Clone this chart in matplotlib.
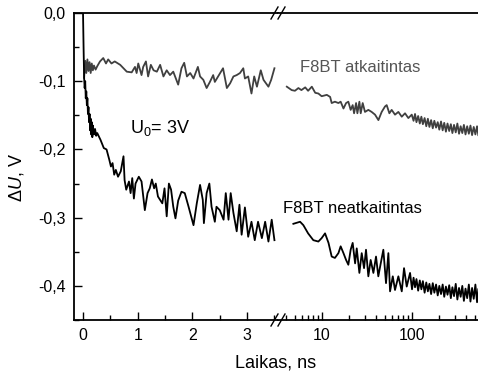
import matplotlib
matplotlib.use('Agg')
import matplotlib.pyplot as plt
import matplotlib.ticker as mticker
from matplotlib.lines import Line2D

plt.rcParams.update({
    'font.family': 'Liberation Sans',
    'mathtext.fontset': 'custom',
    'mathtext.rm': 'Liberation Sans',
    'mathtext.it': 'Liberation Sans:italic',
    'axes.linewidth': 1.3,
})

# ---- data (time in ns, dU in V) ----
# annealed film (F8BT atkaitintas), linear part
t_atk_lin = [0.02, 0.04, 0.06, 0.08, 0.10, 0.12, 0.14, 0.16, 0.18, 0.20,
             0.23, 0.26, 0.31, 0.37, 0.42, 0.46, 0.52, 0.58, 0.68, 0.80,
             0.89, 0.95, 0.98, 1.01, 1.07, 1.10, 1.15, 1.19, 1.24, 1.29,
             1.35, 1.41, 1.47, 1.53, 1.59, 1.65, 1.74, 1.80, 1.85, 1.90,
             1.96, 2.02, 2.10, 2.14, 2.20, 2.26, 2.32, 2.38, 2.41, 2.47,
             2.56, 2.63, 2.69, 2.75, 2.81, 2.87, 2.93, 2.96, 3.02, 3.08,
             3.13, 3.18, 3.25, 3.30, 3.39, 3.44, 3.50]
u_atk_lin = [-0.095, -0.070, -0.088, -0.068, -0.085, -0.072, -0.088, -0.074, -0.084, -0.077,
             -0.083, -0.078, -0.071, -0.066, -0.074, -0.068, -0.074, -0.071, -0.076, -0.086,
             -0.087, -0.079, -0.088, -0.074, -0.091, -0.079, -0.071, -0.093, -0.076, -0.084,
             -0.086, -0.076, -0.093, -0.084, -0.091, -0.086, -0.105, -0.081, -0.073, -0.093,
             -0.088, -0.096, -0.079, -0.093, -0.098, -0.110, -0.101, -0.091, -0.101, -0.093,
             -0.081, -0.110, -0.103, -0.093, -0.091, -0.088, -0.081, -0.096, -0.093, -0.118,
             -0.093, -0.108, -0.084, -0.098, -0.108, -0.098, -0.081]

# annealed film, log part
t_atk_log = [4.06, 4.6, 5.0, 5.46, 5.9, 6.5, 7.0, 7.7, 8.4, 9.1,
             9.9, 11.3, 12.3, 12.8, 13.9, 15.2, 16.1, 17.3, 18.5, 19.6,
             20.8, 21.9, 22.7, 23.9, 24.7, 26.0, 26.9, 28.3, 30.0, 32.7,
             35.6, 38.8, 42.3, 46.0, 50.1, 52.3, 56.0, 59.4, 64.7, 70.5,
             76.9, 83.6, 91.0, 99.3, 104, 108, 112, 117, 122, 127,
             132, 138, 144, 150, 156, 163, 170, 177, 185, 193,
             201, 210, 219, 228, 238, 248, 259, 270, 281, 293,
             306, 319, 333, 347, 362, 377, 393, 410, 428, 446,
             465, 485, 506, 528, 545]
u_atk_log = [-0.108, -0.113, -0.114, -0.110, -0.113, -0.109, -0.114, -0.108, -0.117, -0.118,
             -0.122, -0.120, -0.123, -0.132, -0.130, -0.132, -0.130, -0.140, -0.132, -0.130,
             -0.142, -0.135, -0.147, -0.132, -0.147, -0.130, -0.147, -0.132, -0.145, -0.142,
             -0.145, -0.149, -0.157, -0.145, -0.137, -0.135, -0.147, -0.142, -0.149, -0.145,
             -0.152, -0.147, -0.154, -0.149, -0.158, -0.148, -0.160, -0.151, -0.162, -0.152,
             -0.163, -0.154, -0.166, -0.155, -0.167, -0.157, -0.169, -0.158, -0.168, -0.160,
             -0.171, -0.159, -0.172, -0.161, -0.174, -0.162, -0.173, -0.163, -0.176, -0.164,
             -0.175, -0.162, -0.177, -0.166, -0.176, -0.164, -0.178, -0.166, -0.177, -0.165,
             -0.179, -0.167, -0.178, -0.166, -0.179]

# non-annealed film (F8BT neatkaitintas), linear part
t_neat_lin = [0.0, 0.01, 0.02, 0.03, 0.04, 0.05, 0.06, 0.07, 0.08, 0.09,
              0.10, 0.11, 0.12, 0.13, 0.14, 0.15, 0.16, 0.17, 0.18, 0.20,
              0.22, 0.24, 0.26, 0.32, 0.38, 0.43, 0.48, 0.51, 0.54, 0.57,
              0.60, 0.64, 0.69, 0.74, 0.76, 0.79, 0.84, 0.87, 0.90, 0.93,
              0.96, 1.02, 1.07, 1.13, 1.18, 1.22, 1.26, 1.30, 1.33, 1.37,
              1.41, 1.45, 1.49, 1.53, 1.57, 1.61, 1.65, 1.69, 1.74, 1.80,
              1.86, 1.93, 2.02, 2.08, 2.14, 2.19, 2.21, 2.26, 2.31, 2.35,
              2.41, 2.44, 2.50, 2.57, 2.61, 2.66, 2.70, 2.75, 2.81, 2.86,
              2.90, 2.96, 3.02, 3.08, 3.14, 3.20, 3.27, 3.33, 3.39, 3.45,
              3.50]
u_neat_lin = [0.0, -0.050, -0.095, -0.110, -0.100, -0.125, -0.115, -0.135, -0.125, -0.148,
              -0.138, -0.160, -0.148, -0.172, -0.155, -0.178, -0.160, -0.182, -0.165, -0.178,
              -0.170, -0.180, -0.176, -0.186, -0.198, -0.200, -0.215, -0.225, -0.220, -0.237,
              -0.230, -0.240, -0.232, -0.210, -0.245, -0.259, -0.247, -0.264, -0.242, -0.272,
              -0.250, -0.240, -0.247, -0.289, -0.264, -0.257, -0.244, -0.257, -0.250, -0.269,
              -0.274, -0.279, -0.257, -0.298, -0.250, -0.259, -0.284, -0.301, -0.275, -0.262,
              -0.264, -0.284, -0.311, -0.279, -0.252, -0.274, -0.308, -0.264, -0.250, -0.284,
              -0.306, -0.284, -0.289, -0.303, -0.264, -0.303, -0.264, -0.293, -0.320, -0.281,
              -0.325, -0.285, -0.328, -0.306, -0.333, -0.306, -0.330, -0.306, -0.335, -0.303,
              -0.333]

# non-annealed film, log part
t_neat_log = [4.8, 5.7, 6.2, 7.0, 8.0, 9.1, 9.9, 10.8, 11.8, 12.8,
              13.9, 15.2, 16.1, 17.3, 18.5, 19.6, 20.8, 21.9, 23.3, 24.3,
              26.0, 27.6, 29.3, 30.8, 32.7, 34.7, 37.2, 39.8, 42.2, 44.9,
              48.0, 51.4, 54.6, 57.0, 61.1, 64.7, 70.5, 76.9, 81.5, 87.3,
              95.1, 100, 104, 108, 112, 117, 122, 127, 132, 138,
              144, 150, 156, 163, 170, 177, 185, 193, 201, 210,
              219, 228, 238, 248, 259, 270, 281, 293, 306, 319,
              333, 347, 362, 377, 393, 410, 428, 446, 465, 485,
              506, 528, 545]
u_neat_log = [-0.309, -0.306, -0.311, -0.323, -0.333, -0.335, -0.330, -0.323, -0.337, -0.357,
              -0.359, -0.352, -0.342, -0.352, -0.362, -0.369, -0.347, -0.337, -0.367, -0.345,
              -0.381, -0.352, -0.374, -0.347, -0.386, -0.362, -0.381, -0.357, -0.386, -0.367,
              -0.347, -0.396, -0.352, -0.408, -0.386, -0.406, -0.386, -0.408, -0.374, -0.401,
              -0.381, -0.405, -0.388, -0.402, -0.390, -0.407, -0.392, -0.405, -0.393, -0.410,
              -0.395, -0.408, -0.397, -0.412, -0.396, -0.410, -0.398, -0.414, -0.400, -0.412,
              -0.398, -0.416, -0.401, -0.413, -0.399, -0.418, -0.402, -0.415, -0.397, -0.420,
              -0.403, -0.416, -0.400, -0.422, -0.404, -0.418, -0.398, -0.423, -0.403, -0.419,
              -0.398, -0.424, -0.405]

y_ticks = [0.0, -0.1, -0.2, -0.3, -0.4]
y_ticklabels = ['0,0', '-0,1', '-0,2', '-0,3', '-0,4']

GRAY = '#404040'

fig = plt.figure(figsize=(4.78, 3.76), dpi=100)
W, H = 478.0, 376.0

def px_box(x0, x1, ytop, ybot):
    return [x0 / W, 1 - ybot / H, (x1 - x0) / W, (ybot - ytop) / H]

ax1 = fig.add_axes(px_box(74, 278, 13, 320))
ax2 = fig.add_axes(px_box(278, 478, 13, 320))

ax1.plot(t_atk_lin, u_atk_lin, color=GRAY, lw=1.3)
ax1.plot(t_neat_lin, u_neat_lin, color='black', lw=1.3)
ax2.plot(t_atk_log, u_atk_log, color=GRAY, lw=1.3)
ax2.plot(t_neat_log, u_neat_log, color='black', lw=1.3)

ax2.set_xscale('log')
ax1.set_xlim(-0.165, 3.565)
ax2.set_xlim(3.24, 541)
for ax in (ax1, ax2):
    ax.set_ylim(-0.45, 0.0)
    ax.spines['right'].set_visible(False)
    ax.tick_params(which='major', direction='in', length=6, width=1.0, labelsize=11.5, pad=6)
    ax.tick_params(which='minor', direction='in', length=3.5, width=1.0)

ax1.set_yticks(y_ticks)
ax1.set_yticklabels(y_ticklabels)
ax1.yaxis.set_minor_locator(mticker.MultipleLocator(0.05))
ax1.xaxis.set_major_locator(mticker.MultipleLocator(1))
ax1.xaxis.set_minor_locator(mticker.MultipleLocator(0.5))

ax2.spines['left'].set_visible(False)
ax2.yaxis.set_visible(False)
ax2.xaxis.set_major_locator(mticker.LogLocator(base=10, numticks=10))
ax2.xaxis.set_minor_locator(mticker.LogLocator(base=10, subs=range(2, 10), numticks=20))
ax2.xaxis.set_major_formatter(mticker.FuncFormatter(lambda v, p: '%d' % v))
ax2.xaxis.set_minor_formatter(mticker.NullFormatter())

# axis break marks
for ybrk in (13, 320):
    for dx in (-3.5, 3.5):
        xa, xb = 278 + dx - 3.5, 278 + dx + 3.5
        fig.add_artist(Line2D([xa / W, xb / W], [1 - (ybrk + 6) / H, 1 - (ybrk - 6) / H],
                              color='black', lw=1.0, transform=fig.transFigure))

fig.text(300 / W, 1 - 72 / H, 'F8BT atkaitintas', color='#555555', fontsize=12, va='baseline')
fig.text(283 / W, 1 - 213 / H, 'F8BT neatkaitintas', color='black', fontsize=12, va='baseline')
fig.text(130 / W, 1 - 133 / H, r'U$_{\mathrm{0}}$= 3V', color='black', fontsize=13, va='baseline')

fig.text(276 / W, 1 - 367 / H, 'Laikas, ns', fontsize=13, ha='center', va='baseline')
fig.text(17 / W, 1 - 178 / H, r'$\Delta\mathit{U}$, V', fontsize=13, rotation=90,
         ha='center', va='center')

fig.savefig('out.png', dpi=100)
